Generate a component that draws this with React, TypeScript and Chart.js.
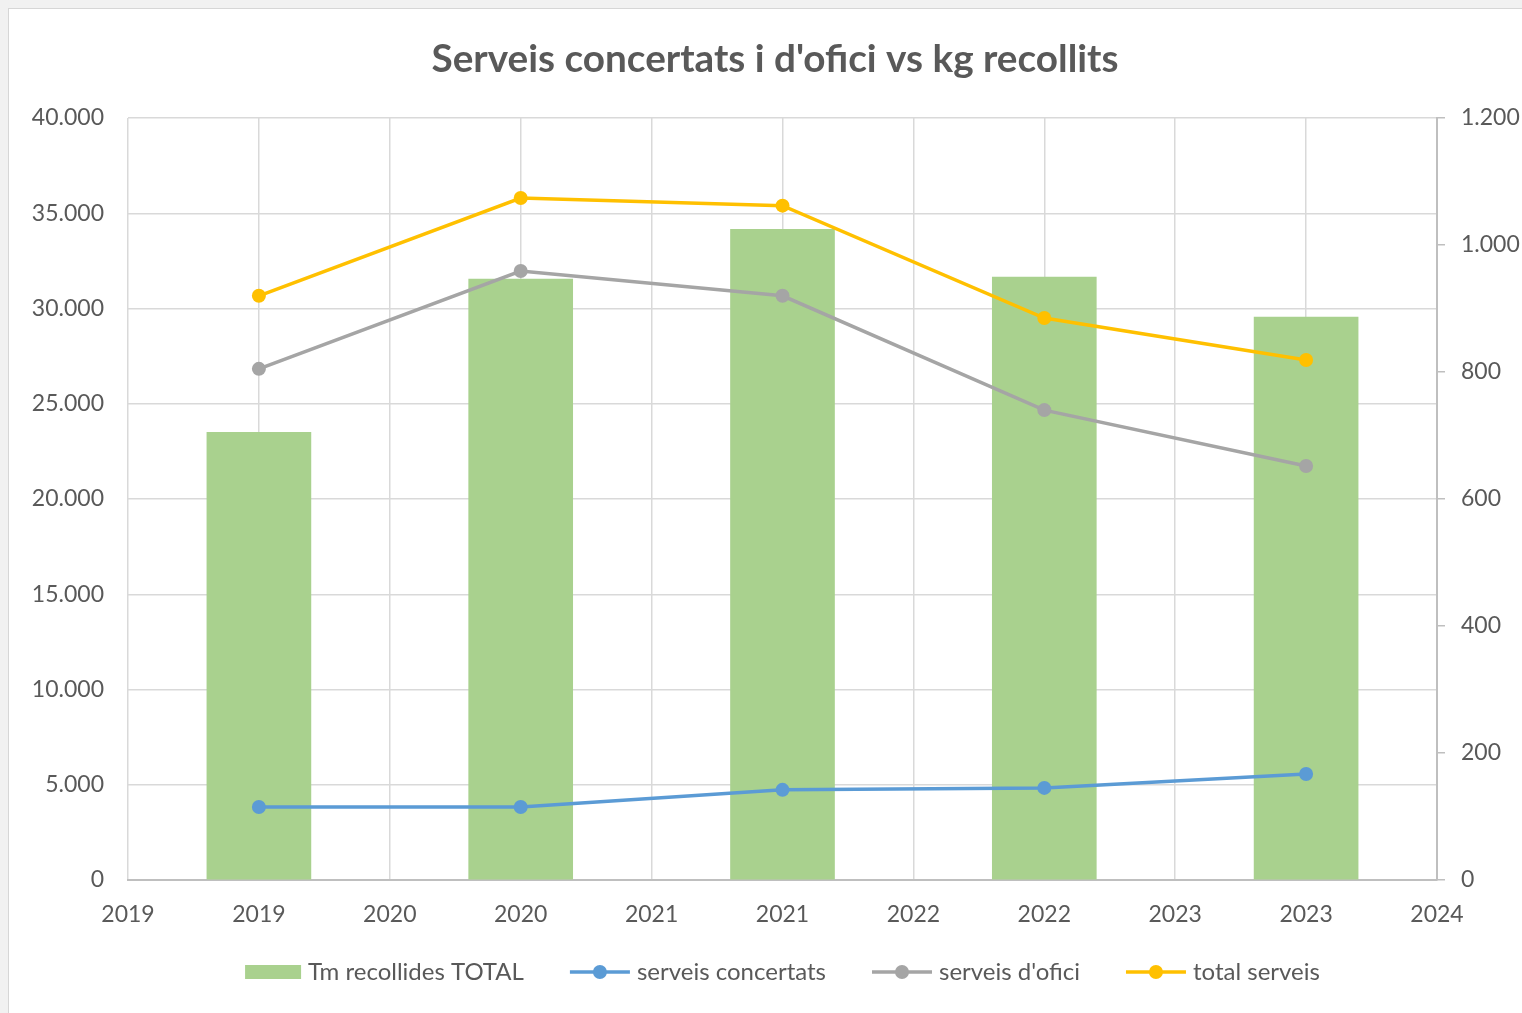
import React, { useEffect, useRef } from 'react';
import { Chart, registerables } from 'chart.js';

Chart.register(...registerables);

const years = ['2019', '2020', '2021', '2022', '2023'];
const xTickLabels = ['2019', '2019', '2020', '2020', '2021', '2021', '2022', '2022', '2023', '2023', '2024'];
const tmRecollides = [23500, 31550, 34150, 31650, 29550];
const serveisConcertats = [115, 115, 142, 145, 167];
const serveisOfici = [805, 959, 920, 740, 652];
const totalServeis = [920, 1074, 1062, 885, 819];

const TITLE = "Serveis concertats i d'ofici vs kg recollits";
const FONT = 'Lato, "Open Sans", sans-serif';
const TEXT = '#595959';
const GREEN = '#A9D18E';
const BLUE = '#5B9BD5';
const GRAY = '#A5A5A5';
const GOLD = '#FFC000';

const fmt = (v: number) => String(Math.round(v)).replace(/\B(?=(\d{3})+(?!\d))/g, '.');
const pts = (arr: number[]) => arr.map((v, i) => ({ x: 2 * i + 1, y: v }));

const legendItems = [
  { label: 'Tm recollides TOTAL', color: GREEN, kind: 'bar' },
  { label: 'serveis concertats', color: BLUE, kind: 'line' },
  { label: "serveis d'ofici", color: GRAY, kind: 'line' },
  { label: 'total serveis', color: GOLD, kind: 'line' },
];

const decorPlugin = {
  id: 'decor',
  afterDraw(chart: any) {
    const ctx = chart.ctx as CanvasRenderingContext2D;
    const ca = chart.chartArea;
    ctx.save();
    ctx.fillStyle = TEXT;
    ctx.font = `bold 38.7px ${FONT}`;
    ctx.textAlign = 'center';
    ctx.textBaseline = 'middle';
    ctx.fillText(TITLE, 766, 51);

    ctx.font = `24px ${FONT}`;
    ctx.textBaseline = 'middle';
    ctx.textAlign = 'left';
    const symW = [56, 60, 60, 60];
    const textGap = 7;
    const itemGap = 46;
    const widths = legendItems.map((it, i) => symW[i] + textGap + ctx.measureText(it.label).width);
    const total = widths.reduce((a, b) => a + b, 0) + itemGap * (legendItems.length - 1);
    let x = (ca.left + ca.right) / 2 - total / 2;
    const y = 963;
    legendItems.forEach((it, i) => {
      if (it.kind === 'bar') {
        ctx.fillStyle = it.color;
        ctx.fillRect(x, y - 7, symW[i], 14);
      } else {
        ctx.strokeStyle = it.color;
        ctx.lineWidth = 3.5;
        ctx.beginPath();
        ctx.moveTo(x, y);
        ctx.lineTo(x + symW[i], y);
        ctx.stroke();
        ctx.fillStyle = it.color;
        ctx.beginPath();
        ctx.arc(x + symW[i] / 2, y, 7, 0, Math.PI * 2);
        ctx.fill();
      }
      ctx.fillStyle = TEXT;
      ctx.fillText(it.label, x + symW[i] + textGap, y);
      x += widths[i] + itemGap;
    });
    ctx.restore();
  },
};

export default function App() {
  const ref = useRef<HTMLCanvasElement>(null);
  useEffect(() => {
    const lineDs = (label: string, data: number[], color: string, order: number) => ({
      type: 'line' as const,
      label,
      data: pts(data),
      yAxisID: 'y1',
      borderColor: color,
      backgroundColor: color,
      borderWidth: 3.5,
      pointRadius: 7,
      pointHoverRadius: 7,
      pointBackgroundColor: color,
      pointBorderWidth: 0,
      tension: 0,
      order,
    });
    const chart = new Chart(ref.current!, {
      type: 'bar',
      data: {
        datasets: [
          {
            type: 'bar',
            label: 'Tm recollides TOTAL',
            data: pts(tmRecollides),
            yAxisID: 'y',
            backgroundColor: GREEN,
            borderWidth: 0,
            barThickness: 104,
            order: 10,
          } as any,
          lineDs('serveis concertats', serveisConcertats, BLUE, 3),
          lineDs("serveis d'ofici", serveisOfici, GRAY, 2),
          lineDs('total serveis', totalServeis, GOLD, 1),
        ],
      },
      options: {
        animation: false,
        responsive: false,
        maintainAspectRatio: false,
        layout: { padding: { top: 109, bottom: 73, left: 0, right: 0 } },
        plugins: {
          legend: { display: false },
          title: { display: false },
          tooltip: { enabled: false },
        },
        scales: {
          x: {
            type: 'linear',
            min: 0,
            max: 10,
            offset: false,
            afterFit: (s: any) => { s.height = 60; },
            ticks: {
              stepSize: 1,
              autoSkip: false,
              maxRotation: 0,
              padding: 21,
              color: TEXT,
              font: { family: FONT, size: 23 },
              callback: (v: any) => xTickLabels[Number(v)] ?? '',
            },
            grid: { color: '#D9D9D9', lineWidth: 1.5, drawTicks: false, offset: false },
            border: { color: '#BFBFBF', width: 2 },
          },
          y: {
            type: 'linear',
            position: 'left',
            min: 0,
            max: 40000,
            afterFit: (s: any) => { s.width = 119; },
            ticks: {
              stepSize: 5000,
              padding: 24,
              color: TEXT,
              font: { family: FONT, size: 23 },
              callback: (v: any) => fmt(Number(v)),
            },
            grid: { color: '#D9D9D9', lineWidth: 1.5, drawTicks: false },
            border: { display: false },
          },
          y1: {
            type: 'linear',
            position: 'right',
            min: 0,
            max: 1200,
            afterFit: (s: any) => { s.width = 85; },
            ticks: {
              stepSize: 200,
              padding: 16,
              color: TEXT,
              font: { family: FONT, size: 23 },
              callback: (v: any) => fmt(Number(v)),
            },
            grid: { drawOnChartArea: false, drawTicks: true, tickLength: 8, color: '#BFBFBF', lineWidth: 1.5 },
            border: { color: '#BFBFBF', width: 2 },
          },
        },
      } as any,
      plugins: [decorPlugin],
    });
    return () => chart.destroy();
  }, []);

  return (
    <div style={{ position: 'fixed', inset: 0, background: '#f1f1f1', overflow: 'hidden' }}>
      <div
        style={{
          position: 'absolute',
          left: 8,
          top: 8,
          width: 1514,
          height: 1005,
          background: '#ffffff',
          borderLeft: '1px solid #d6d6d6',
          borderTop: '1px solid #d6d6d6',
          boxSizing: 'border-box',
        }}
      >
        <canvas ref={ref} width={1513} height={1004} style={{ display: 'block', width: 1513, height: 1004 }} />
      </div>
    </div>
  );
}
